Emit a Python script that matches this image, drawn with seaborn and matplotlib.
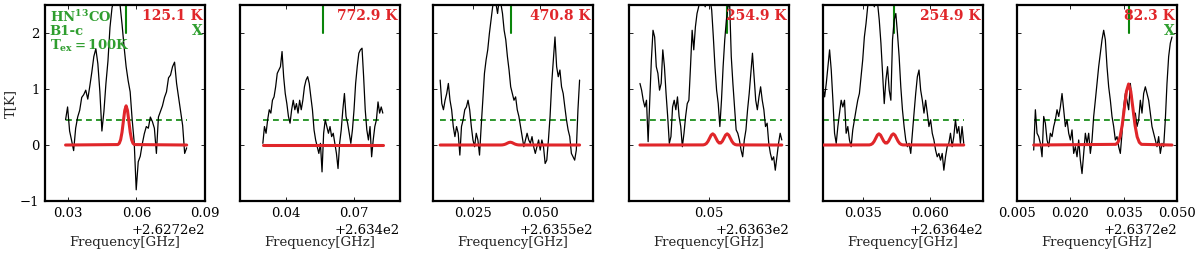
import numpy as np
import matplotlib
matplotlib.use("Agg")
import matplotlib.pyplot as plt
import seaborn as sns

sns.set_theme(style="ticks")
plt.rcParams['font.family'] = ['DejaVu Serif']
plt.rcParams['mathtext.fontset'] = 'dejavuserif'

RED = "#e0262a"
GREEN_TXT = "#2f9e2f"
GREEN_LN = "#0a850a"

# axis offsets (GHz) and layout per panel
offsets = [262.72, 263.4, 263.55, 263.63, 263.64, 263.72]
xlims = [(0.02, 0.09), (0.02, 0.09), (0.01, 0.07), (0.02, 0.08), (0.02, 0.08), (0.005, 0.05)]
xticks = [[0.03, 0.06, 0.09], [0.04, 0.07], [0.025, 0.05], [0.05], [0.035, 0.06],
          [0.005, 0.02, 0.035, 0.05]]
# frequency span of each observed spectrum (relative to offset)
spec_range = [(0.029, 0.082), (0.030, 0.0825), (0.0127, 0.065),
              (0.0241, 0.0773), (0.020, 0.0728), (0.0097, 0.0486)]
eup_labels = ["125.1 K", "772.9 K", "470.8 K", "254.9 K", "254.9 K", "82.3 K"]
line_freq = [0.0554, 0.0562, 0.0391, 0.0569, 0.0466, 0.0366]
blended = [True, False, False, False, False, True]
rms_level = 0.45

spec1 = [0.45, 0.68, 0.25, 0.08, -0.1, 0.3, 0.5, 0.62, 0.85, 0.9, 0.98, 0.82, 1.05, 1.3,
         1.58, 1.72, 1.45, 0.95, 0.25, 0.6, 1.1, 1.5, 2.1, 2.45, 2.6, 2.7, 2.6, 2.5, 2.15,
         1.75, 1.4, 1.15, 0.95, 0.45, 0.05, -0.8, -0.3, -0.2, 0.02, 0.2, 0.33, 0.3, 0.5,
         0.42, 0.3, -0.15, 0.5, 0.6, 0.7, 0.85, 0.95, 1.2, 1.25, 1.4, 1.48, 1.1, 0.85, 0.6,
         0.35, -0.15, -0.05]
spec2 = [0.03, 0.33, 0.21, 0.45, 0.63, 0.57, 0.80, 0.86, 1.04, 1.28, 1.34, 1.40, 1.67, 1.22,
         0.92, 0.74, 0.51, 0.39, 0.63, 0.80, 0.63, 0.74, 0.57, 0.80, 0.63, 0.80, 1.04, 1.16,
         1.22, 1.10, 0.86, 0.63, 0.27, 0.09, -0.03, -0.15, 0.03, -0.48, 0.21, 0.45, 0.33,
         0.21, 0.33, 0.15, 0.21, 0.03, -0.15, -0.42, 0.03, 0.27, 0.63, 0.92, 0.51, 0.39,
         0.21, 0.03, 0.27, 0.63, 1.10, 1.40, 1.64, 1.70, 1.73, 1.22, 0.63, 0.27, 0.09, 0.33,
         -0.21, 0.09, 0.33, 0.45, 0.77, 0.57, 0.68, 0.57]
spec3 = [1.16, 0.74, 0.63, 0.80, 0.92, 1.10, 0.80, 0.63, 0.33, 0.15, 0.33, 0.21, -0.18, 0.33,
         0.45, 0.63, 0.68, 0.80, 0.63, 0.33, 0.09, -0.03, 0.21, 0.09, -0.18, 0.33, 0.80, 1.28,
         1.52, 1.70, 1.99, 2.23, 2.47, 2.6, 2.53, 2.35, 2.6, 2.53, 2.35, 2.05, 1.88, 1.58,
         1.34, 1.04, 0.92, 0.80, 0.86, 0.63, 0.51, 0.33, 0.15, -0.03, 0.09, 0.21, 0.09, 0.03,
         0.15, -0.03, -0.15, -0.03, 0.09, -0.09, 0.09, -0.03, -0.33, -0.27, 0.09, 0.51, 1.10,
         1.52, 1.93, 1.40, 1.22, 1.34, 1.04, 0.92, 0.68, 0.45, 0.27, 0.15, -0.15, -0.21,
         -0.27, -0.09, 0.63, 1.16]
spec4 = [1.10, 0.98, 0.80, 0.68, 0.80, 0.06, 0.80, 1.52, 2.05, 1.93, 1.40, 1.28, 0.98, 1.10,
         1.70, 1.40, 0.92, 0.51, 0.03, 0.15, 0.68, 0.80, 0.63, 0.86, 0.51, 0.33, -0.03, 0.21,
         0.51, 0.74, 0.80, 1.40, 2.05, 1.70, 2.11, 2.35, 2.47, 2.6, 2.53, 2.6, 2.47, 2.6,
         2.53, 2.6, 2.41, 1.93, 1.40, 0.98, 0.74, 0.33, 0.80, 1.40, 1.88, 2.23, 2.47, 2.53,
         1.58, 1.10, 0.68, 0.27, 0.21, 0.09, -0.09, -0.21, 0.09, 0.27, 0.63, 0.92, 1.28, 1.64,
         1.22, 0.80, 0.63, 0.86, 1.04, 0.80, 0.63, 0.33, 0.39, 0.03, -0.15, -0.27, -0.21,
         -0.45, -0.21, 0.03, 0.21, 0.09]
spec5 = [1.04, 0.86, 1.10, 1.40, 1.70, 1.34, 0.80, 0.21, 0.03, 0.33, 0.57, 0.80, 0.68, 0.80,
         0.21, 0.33, 0.09, -0.03, 0.27, 0.45, 0.63, 0.80, 0.92, 1.22, 1.52, 1.93, 2.17, 2.47,
         2.6, 2.53, 2.6, 2.47, 2.6, 2.53, 2.23, 1.82, 1.28, 0.74, 1.16, 1.40, 0.98, 0.80, 1.88,
         2.23, 2.35, 1.99, 1.58, 1.04, 0.63, 0.33, 0.09, -0.03, 0.03, -0.15, 0.21, 0.57, 0.92,
         1.22, 1.34, 0.98, 0.80, 0.57, 0.80, 0.57, 0.33, 0.45, 0.21, 0.09, -0.09, -0.21, -0.15,
         -0.27, -0.15, -0.45, -0.21, -0.03, 0.03, 0.21, -0.03, 0.15, 0.45, 0.21, 0.33, 0.03,
         0.33, 0.03]
spec6 = [-0.09, 0.63, 0.21, 0.15, 0.03, -0.21, 0.51, 0.39, 0.09, -0.03, 0.21, 0.15, 0.33, 0.45,
         0.63, 0.51, 0.68, 0.92, 0.63, 0.33, 0.45, 0.21, 0.09, 0.27, -0.15, -0.03, -0.21, 0.09,
         -0.27, -0.51, -0.15, 0.21, 0.03, 0.21, -0.15, 0.09, 0.51, 0.80, 1.10, 1.40, 1.64,
         1.88, 2.05, 1.88, 1.40, 1.04, 0.80, 0.51, 0.33, 0.09, 0.15, -0.03, -0.15, 0.21, 0.68,
         0.92, 0.80, 0.63, 1.10, 0.80, 0.51, 0.57, 0.33, 0.45, 0.80, 0.57, 0.92, 1.04, 0.92,
         0.80, 0.57, 0.33, 0.21, 0.09, -0.03, 0.15, -0.15, 0.03, -0.03, 0.45, 1.10, 1.58, 1.82,
         1.93]
spectra = [spec1, spec2, spec3, spec4, spec5, spec6]

# synthetic (LTE model) spectra: frequency points and T[K]
model_f1 = [0.029, 0.0519, 0.0525, 0.0531, 0.0537, 0.0543, 0.0549, 0.0555, 0.0561, 0.0567,
            0.0573, 0.0579, 0.0585, 0.0591, 0.082]
model_t1 = [0, 0.008, 0.031, 0.095, 0.227, 0.425, 0.618, 0.70, 0.618, 0.425, 0.227, 0.095,
            0.031, 0.008, 0]
model_f2 = [0.030, 0.0825]
model_t2 = [0, 0]
model_f3 = [0.0127, 0.0354, 0.036, 0.0366, 0.0372, 0.0378, 0.0384, 0.039, 0.0396, 0.0402,
            0.0408, 0.0414, 0.042, 0.0426, 0.065]
model_t3 = [0, 0.0006, 0.002, 0.007, 0.016, 0.030, 0.044, 0.05, 0.044, 0.030, 0.016, 0.007,
            0.002, 0.0006, 0]
model_f4 = [0.0241, 0.0478, 0.0484, 0.049, 0.0496, 0.0502, 0.0508, 0.0514, 0.052, 0.0526,
            0.0532, 0.0538, 0.0544, 0.055, 0.0556, 0.0562, 0.0568, 0.0574, 0.058, 0.0586,
            0.0592, 0.0598, 0.0604, 0.0773]
model_t4 = [0, 0.002, 0.009, 0.027, 0.065, 0.121, 0.177, 0.200, 0.177, 0.122, 0.067, 0.036,
            0.036, 0.067, 0.122, 0.177, 0.200, 0.177, 0.121, 0.065, 0.027, 0.009, 0.002, 0]
model_f5 = [0.020, 0.0374, 0.038, 0.0386, 0.0392, 0.0398, 0.0404, 0.041, 0.0416, 0.0422,
            0.0428, 0.0434, 0.044, 0.0446, 0.0452, 0.0458, 0.0464, 0.047, 0.0476, 0.0482,
            0.0488, 0.0494, 0.05, 0.0728]
model_t5 = model_t4
model_f6 = [0.0097, 0.0328, 0.0334, 0.034, 0.0346, 0.0352, 0.0358, 0.0364, 0.037, 0.0376,
            0.0382, 0.0388, 0.0394, 0.04, 0.0486]
model_t6 = [0, 0.012, 0.048, 0.147, 0.354, 0.661, 0.962, 1.09, 0.962, 0.661, 0.354, 0.147,
            0.048, 0.012, 0]
models = [(model_f1, model_t1), (model_f2, model_t2), (model_f3, model_t3),
          (model_f4, model_t4), (model_f5, model_t5), (model_f6, model_t6)]

lefts = [0.0375, 0.2, 0.3608, 0.5242, 0.6858, 0.8475]

fig = plt.figure(figsize=(12, 2.54), dpi=100)

for i in range(6):
    ax = fig.add_axes([lefts[i], 0.2087, 0.1333, 0.7713])
    off = offsets[i]
    f0, f1 = spec_range[i]
    vals = spectra[i]
    freq = off + np.linspace(f0, f1, len(vals))

    sns.lineplot(x=freq, y=vals, ax=ax, color="black", lw=0.9, sort=False,
                 estimator=None, zorder=3)
    mf, mt = models[i]
    sns.lineplot(x=off + np.array(mf), y=mt, ax=ax, color=RED, lw=2.2, sort=False,
                 estimator=None, zorder=4)
    ax.plot([off + f0, off + f1], [rms_level, rms_level], color=GREEN_LN, lw=1.2,
            ls=(0, (3.5, 2.5)), zorder=2)
    ax.plot([off + line_freq[i]] * 2, [2.0, 2.5], color=GREEN_LN, lw=1.5, zorder=2)

    ax.set_xlim(off + xlims[i][0], off + xlims[i][1])
    ax.set_ylim(-1, 2.5)
    ax.ticklabel_format(axis='x', useOffset=off)
    ax.set_xticks([off + t for t in xticks[i]])
    ax.set_yticks([-1, 0, 1, 2])
    ax.tick_params(direction='in', length=3, width=0.6, top=True, right=True,
                   labelsize=9.5, pad=4, colors='black')
    ax.xaxis.get_offset_text().set_fontsize(9.5)
    for s in ax.spines.values():
        s.set_linewidth(1.6)
        s.set_color('black')
    ax.set_xlabel("Frequency[GHz]", fontsize=9.5, labelpad=12)
    if i == 0:
        ax.set_ylabel("T[K]", fontsize=9.5, labelpad=2)
        ax.text(0.03, 0.915, r"$\mathbf{HN^{13}CO}$", transform=ax.transAxes,
                color=GREEN_TXT, fontsize=9.5, va='baseline')
        ax.text(0.03, 0.845, "B1-c", transform=ax.transAxes, color=GREEN_TXT,
                fontsize=9.5, fontweight='bold', va='baseline')
        ax.text(0.03, 0.772, r"$\mathbf{T_{ex}=100K}$", transform=ax.transAxes,
                color=GREEN_TXT, fontsize=9.5, va='baseline')
    else:
        ax.set_yticklabels([])
    ax.text(0.985, 0.925, eup_labels[i], transform=ax.transAxes, color=RED,
            fontsize=10, fontweight='bold', ha='right', va='baseline', zorder=6)
    if blended[i]:
        ax.text(0.985, 0.847, "X", transform=ax.transAxes, color=GREEN_TXT,
                fontsize=10, fontweight='bold', ha='right', va='baseline', zorder=6)

fig.savefig("out.png", dpi=100)
plt.close(fig)
